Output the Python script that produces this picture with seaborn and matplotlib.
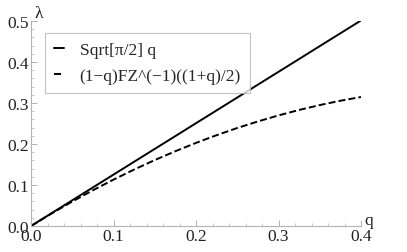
import matplotlib
matplotlib.use("Agg")
import matplotlib.pyplot as plt
import seaborn as sns
import pandas as pd
from matplotlib.ticker import MultipleLocator

# values
q_vals = [0.0, 0.025, 0.05, 0.075, 0.1, 0.125, 0.15, 0.175, 0.2,
          0.225, 0.25, 0.275, 0.3, 0.325, 0.35, 0.375, 0.4]
lin_vals = [0.0, 0.0313, 0.0627, 0.0940, 0.1253, 0.1567, 0.1880, 0.2193, 0.2507,
            0.2820, 0.3133, 0.3447, 0.3760, 0.4073, 0.4387, 0.4700, 0.5013]
fz_vals = [0.0, 0.0306, 0.0596, 0.0871, 0.1131, 0.1377, 0.1608, 0.1824, 0.2027,
           0.2215, 0.2390, 0.2550, 0.2697, 0.2830, 0.2949, 0.3055, 0.3146]
series_names = ["Sqrt[\u03c0/2] q", "(1\u2212q)FZ^(\u22121)((1+q)/2)"]

df = pd.DataFrame({
    "q": q_vals * 2,
    "lam": lin_vals + fz_vals,
    "series": [series_names[0]] * len(q_vals) + [series_names[1]] * len(q_vals),
})

sns.set_style("white")
plt.rcParams["font.family"] = ["Liberation Serif", "DejaVu Serif"]

fig = plt.figure(figsize=(4.07, 2.53), dpi=100)
ax = fig.add_axes([0.0762, 0.1028, 0.8108, 0.8103])

sns.lineplot(data=df, x="q", y="lam", hue="series", style="series",
             palette=["black", "black"], dashes=[(None, None), (3.6, 1.6)],
             linewidth=1.4, ax=ax)

ax.set_xlim(0, 0.4)
ax.set_ylim(0, 0.5)
ax.xaxis.set_major_locator(MultipleLocator(0.1))
ax.yaxis.set_major_locator(MultipleLocator(0.1))
ax.xaxis.set_minor_locator(MultipleLocator(0.02))
ax.yaxis.set_minor_locator(MultipleLocator(0.02))
ax.xaxis.set_major_formatter(plt.FuncFormatter(lambda v, p: f"{v:.1f}"))
ax.yaxis.set_major_formatter(plt.FuncFormatter(lambda v, p: f"{v:.1f}"))

grey = "#b3b3b3"
fs = 12.5
for side in ["top", "right"]:
    ax.spines[side].set_visible(False)
for side in ["left", "bottom"]:
    ax.spines[side].set_color(grey)
    ax.spines[side].set_linewidth(0.8)
ax.tick_params(which="major", direction="in", length=4, width=0.7, color=grey,
               labelsize=fs, labelcolor="#222222", pad=1.5)
ax.tick_params(which="minor", direction="in", length=2, width=0.5, color=grey)
ax.tick_params(axis="x", which="both", bottom=True)
ax.tick_params(axis="y", which="both", left=True)
ax.set_xlabel("")
ax.set_ylabel("")

# axis labels at the ends of the axes
ax.text(1.01, -0.01, "q", transform=ax.transAxes, fontsize=fs,
        ha="left", va="bottom", color="#222222")
ax.text(0.012, 1.0, "\u03bb", transform=ax.transAxes, fontsize=fs,
        ha="left", va="bottom", color="#222222")

leg = ax.legend(loc="upper left", bbox_to_anchor=(0.042, 0.941), borderaxespad=0,
                fontsize=fs, frameon=True, fancybox=False, handlelength=0.6,
                handletextpad=0.9, borderpad=0.5, labelspacing=0.6)
leg.get_frame().set_edgecolor(grey)
leg.get_frame().set_linewidth(0.8)

fig.savefig("out.png", dpi=100)
